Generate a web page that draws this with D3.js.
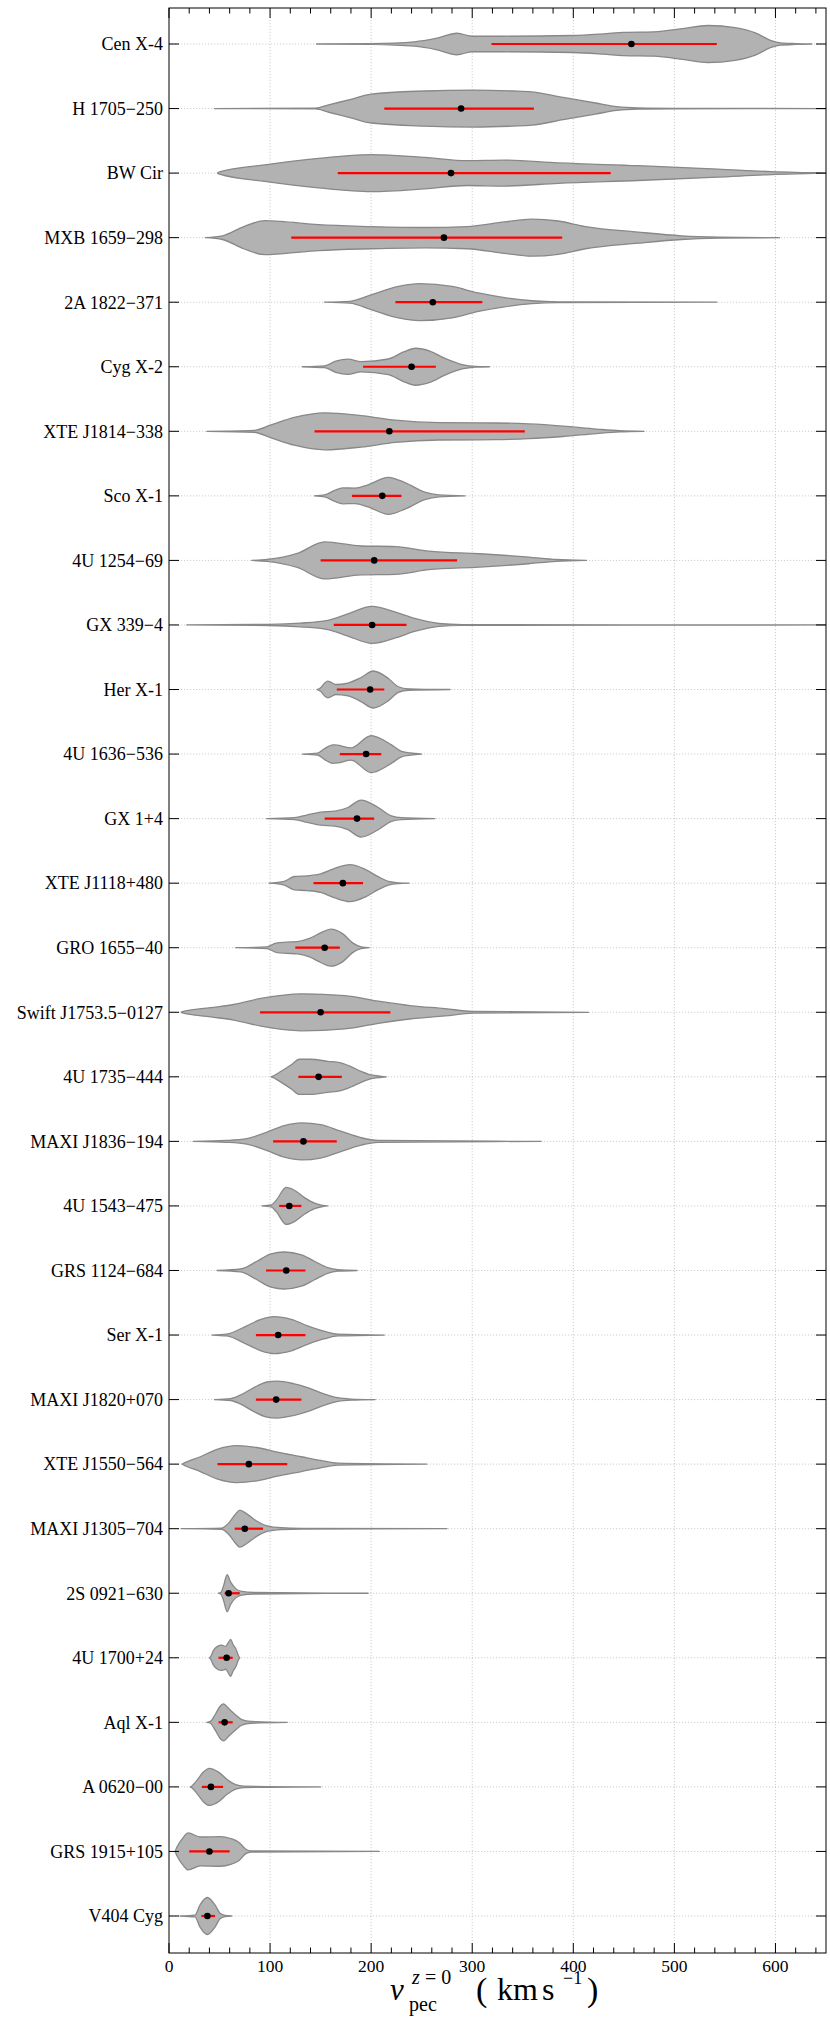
<!DOCTYPE html>
<html>
<head>
<meta charset="utf-8">
<script src="https://cdn.jsdelivr.net/npm/d3@7"></script>
<style>
  body { margin: 0; background: #fff; }
  text { font-family: "Liberation Serif", "DejaVu Serif", serif; fill: #000; }
</style>
</head>
<body>
<div class="chart"></div>
<script>
// sources, top to bottom
const sources = ["Cen X-4", "H 1705\u2212250", "BW Cir", "MXB 1659\u2212298", "2A 1822\u2212371",
  "Cyg X-2", "XTE J1814\u2212338", "Sco X-1", "4U 1254\u221269", "GX 339\u22124",
  "Her X-1", "4U 1636\u2212536", "GX 1+4", "XTE J1118+480", "GRO 1655\u221240",
  "Swift J1753.5\u22120127", "4U 1735\u2212444", "MAXI J1836\u2212194", "4U 1543\u2212475", "GRS 1124\u2212684",
  "Ser X-1", "MAXI J1820+070", "XTE J1550\u2212564", "MAXI J1305\u2212704", "2S 0921\u2212630",
  "4U 1700+24", "Aql X-1", "A 0620\u221200", "GRS 1915+105", "V404 Cyg"]

// median and red interval (km/s)
const medians = [457.5, 289, 279, 272, 261, 240, 218, 211, 203, 201, 199, 195, 186, 172, 154,
  150, 148, 133, 119, 116, 108, 106, 79, 75, 59, 57, 55, 41.5, 40, 38]
const lows = [319, 213, 167, 121, 224, 192, 144, 181, 150, 163, 166, 169, 154, 143, 125,
  90, 128, 103, 109, 96, 86, 86, 48, 65, 55, 49, 49, 32.5, 20, 32]
const highs = [542, 361, 437, 389, 310, 264, 352, 230, 285, 235, 213, 210, 203, 192, 169,
  219, 171, 166, 131, 135, 135, 131, 117, 93, 70, 63, 63, 53.5, 60, 45.5]

// extent of each distribution (thin tails)
const tailMin = [146, 45, 48, 36, 154, 132, 37.5, 144, 82, 17.6, 146.5, 132, 96.7, 99, 66,
  12, 101, 24, 92, 47.5, 42.5, 45, 13, 12, 49, 40, 37.5, 21, 6, 11]
const tailMax = [636, 650, 650, 604, 542, 317, 470, 293, 413, 650, 278, 250, 263, 237.5, 198,
  415, 215, 368, 157, 186, 213, 204, 255, 275, 197, 70, 117, 150, 208, 62]

// density profiles [velocity, relative width]
const profiles = [
  [[200,0.02],[243,0.12],[264,0.3],[285,0.58],[300,0.42],[330,0.42],[400,0.46],[430,0.55],[450,0.63],[480,0.66],[510,0.85],[533,1.0],[560,0.88],[580,0.6],[595,0.2],[605,0.06],[620,0.02]],
  [[145,0.02],[158,0.2],[180,0.5],[200,0.78],[253,0.95],[301,1.0],[340,0.95],[359,0.9],[390,0.6],[422,0.3],[443,0.1],[464,0.03],[500,0.01]],
  [[50,0.06],[95,0.45],[148,0.8],[200,1.0],[253,0.85],[295,0.67],[332,0.7],[385,0.55],[464,0.4],[543,0.22],[596,0.08],[638,0.02]],
  [[53,0.1],[74,0.6],[95,0.92],[110,0.88],[148,0.7],[200,0.6],[253,0.55],[295,0.6],[332,0.85],[359,1.0],[385,0.9],[412,0.6],[464,0.3],[507,0.1],[544,0.03]],
  [[179,0.05],[200,0.4],[227,0.85],[248,1.0],[280,0.85],[306,0.5],[332,0.25],[359,0.08],[385,0.02]],
  [[154,0.05],[165,0.3],[177,0.41],[190,0.28],[217,0.42],[232,0.8],[244,1.0],[258,0.85],[273,0.45],[290,0.12],[303,0.02]],
  [[84,0.05],[101,0.35],[124,0.75],[154,1.0],[190,0.85],[224,0.6],[267,0.47],[323,0.45],[356,0.4],[390,0.28],[423,0.12],[446,0.03]],
  [[154,0.05],[164,0.3],[172,0.43],[184,0.42],[197,0.6],[217,1.0],[234,0.7],[253,0.2],[267,0.05]],
  [[97,0.05],[127,0.38],[154,1.0],[190,0.78],[224,0.75],[257,0.5],[307,0.36],[356,0.18],[383,0.05]],
  [[100,0.03],[130,0.1],[157,0.25],[177,0.6],[201,1.0],[224,0.7],[243,0.35],[267,0.08],[290,0.02]],
  [[150,0.1],[154,0.35],[157,0.45],[160,0.4],[165,0.27],[177,0.35],[190,0.65],[202,1.0],[217,0.6],[227,0.15],[237,0.04]],
  [[147,0.05],[154,0.3],[162,0.5],[167,0.48],[180,0.33],[200,1.0],[220,0.5],[230,0.15],[244,0.03]],
  [[124,0.05],[137,0.2],[150,0.35],[164,0.4],[177,0.6],[190,1.0],[207,0.6],[220,0.15],[230,0.05]],
  [[114,0.1],[124,0.36],[137,0.4],[150,0.5],[164,0.8],[179,1.0],[194,0.75],[207,0.35],[217,0.1],[227,0.02]],
  [[97,0.05],[106,0.25],[116,0.3],[127,0.33],[139,0.5],[150,0.8],[160,1.0],[172,0.75],[182,0.25],[190,0.05]],
  [[12.6,0.02],[41,0.25],[64,0.42],[91,0.75],[131,1.0],[174,0.9],[207,0.6],[240,0.35],[273,0.2],[300,0.05]],
  [[102,0.02],[111,0.3],[121,0.65],[129,0.95],[140,0.95],[157,0.84],[170,0.75],[180,0.55],[190,0.3],[200,0.1],[210,0.03]],
  [[57,0.05],[77,0.15],[97,0.5],[114,0.85],[131,1.0],[150,0.9],[170,0.55],[190,0.2],[207,0.05]],
  [[101,0.05],[106,0.3],[116,1.0],[124,0.85],[134,0.45],[144,0.15],[152,0.03]],
  [[71,0.08],[87,0.5],[101,0.9],[114,1.0],[131,0.85],[144,0.5],[157,0.15],[167,0.04]],
  [[57,0.05],[77,0.5],[91,0.85],[104,1.0],[121,0.85],[137,0.5],[154,0.2],[167,0.05]],
  [[61,0.05],[71,0.25],[84,0.65],[97,0.95],[107,1.0],[124,0.85],[137,0.65],[154,0.3],[167,0.1],[180,0.03]],
  [[13.6,0.02],[31,0.4],[47.5,0.8],[67,1.0],[87,0.9],[107,0.65],[131,0.4],[150,0.2],[167,0.05]],
  [[52,0.03],[59,0.3],[66,0.8],[70,1.0],[77,0.8],[87,0.4],[97,0.15],[111,0.05],[131,0.02]],
  [[51.5,0.05],[54,0.4],[57.5,1.0],[61,0.6],[66,0.25],[72,0.1],[84,0.04]],
  [[41,0.05],[44,0.4],[48,0.62],[52,0.68],[56,0.62],[59,0.85],[61,1.0],[63.5,0.7],[66,0.5],[69,0.08]],
  [[41,0.05],[46,0.45],[51,0.9],[54,1.0],[59,0.75],[66,0.4],[72,0.15],[81,0.05]],
  [[22.6,0.05],[27.6,0.35],[34,0.8],[40,1.0],[49,0.8],[57.5,0.4],[66,0.12],[74,0.04]],
  [[8,0.25],[14,0.75],[19,1.0],[31,0.78],[51,0.8],[61,0.7],[69,0.5],[76,0.12],[81,0.03]],
  [[25.7,0.05],[30.7,0.6],[38,1.0],[45.5,0.6],[50.5,0.15],[55.4,0.03]]
]

const xTicks = [0, 100, 200, 300, 400, 500, 600]
const xMinor = d3.range(20, 650, 20).filter(v => v % 100 !== 0)

const W = 830, H = 2030
const pLeft = 169, pRight = 826, pTop = 8, pBottom = 1953
const halfW = 18.5

const x = d3.scaleLinear().domain([0, 650]).range([pLeft, pRight])
const y = d3.scalePoint().domain(sources).range([44, 1916])

const svg = d3.select('.chart').append('svg')
  .attr('width', W).attr('height', H)

svg.append('defs').append('clipPath').attr('id', 'plot')
  .append('rect').attr('x', pLeft).attr('y', pTop)
  .attr('width', pRight - pLeft).attr('height', pBottom - pTop)

// grid
const grid = svg.append('g')
  .attr('stroke', '#c2c2c2').attr('stroke-width', 0.8).attr('stroke-dasharray', '1.2,1.8')
grid.selectAll('line.v').data(xTicks.slice(1)).enter().append('line')
  .attr('x1', d => x(d)).attr('x2', d => x(d)).attr('y1', pTop).attr('y2', pBottom)
grid.selectAll('line.h').data(sources).enter().append('line')
  .attr('x1', pLeft).attr('x2', pRight).attr('y1', d => y(d)).attr('y2', d => y(d))

// violins
const plot = svg.append('g').attr('clip-path', 'url(#plot)')
sources.forEach((s, i) => {
  const pts = [[tailMin[i], 0]].concat(profiles[i], [[tailMax[i], 0]])
  const yc = y(s)
  const area = d3.area()
    .curve(d3.curveMonotoneX)
    .x(d => x(d[0]))
    .y0(d => yc - d[1] * halfW)
    .y1(d => yc + d[1] * halfW)
  plot.append('path')
    .attr('d', area(pts))
    .attr('fill', '#b2b2b2')
    .attr('stroke', '#888')
    .attr('stroke-width', 1.3)
    .attr('stroke-linejoin', 'round')
})

// interval + median
plot.selectAll('line.iv').data(sources).enter().append('line')
  .attr('x1', (d, i) => x(lows[i])).attr('x2', (d, i) => x(highs[i]))
  .attr('y1', d => y(d)).attr('y2', d => y(d))
  .attr('stroke', '#ff0000').attr('stroke-width', 2.2)
plot.selectAll('circle').data(sources).enter().append('circle')
  .attr('cx', (d, i) => x(medians[i])).attr('cy', d => y(d))
  .attr('r', 3.3).attr('fill', '#000')

// frame and ticks
const ax = svg.append('g').attr('stroke', '#000').attr('stroke-width', 1)
ax.append('rect').attr('x', pLeft).attr('y', pTop)
  .attr('width', pRight - pLeft).attr('height', pBottom - pTop).attr('fill', 'none')
ax.selectAll('line.xb').data(xTicks.concat(xMinor)).enter().append('line')
  .attr('x1', d => x(d)).attr('x2', d => x(d))
  .attr('y1', pBottom).attr('y2', d => pBottom - (d % 100 === 0 ? 10 : 5.5))
ax.selectAll('line.xt').data(xTicks.concat(xMinor)).enter().append('line')
  .attr('x1', d => x(d)).attr('x2', d => x(d))
  .attr('y1', pTop).attr('y2', d => pTop + (d % 100 === 0 ? 10 : 5.5))
ax.selectAll('line.yl').data(sources).enter().append('line')
  .attr('x1', pLeft).attr('x2', pLeft + 10).attr('y1', d => y(d)).attr('y2', d => y(d))
ax.selectAll('line.yr').data(sources).enter().append('line')
  .attr('x1', pRight - 10).attr('x2', pRight).attr('y1', d => y(d)).attr('y2', d => y(d))

svg.append('g').selectAll('text').data(sources).enter().append('text')
  .attr('x', pLeft - 6).attr('y', d => y(d)).attr('dy', '0.35em')
  .attr('text-anchor', 'end').attr('font-size', 18)
  .text(d => d)

svg.append('g').selectAll('text').data(xTicks).enter().append('text')
  .attr('x', d => x(d)).attr('y', 1972)
  .attr('text-anchor', 'middle').attr('font-size', 17.5)
  .text(d => d)

// x label: v_pec^{z=0} (km s^-1), one plain text per piece
const lab = svg.append('g').attr('transform', 'translate(390,2000)')
lab.append('text').attr('x', 0).attr('font-size', 31).attr('font-style', 'italic').text('v')
lab.append('text').attr('x', 19).attr('y', 11).attr('font-size', 20).text('pec')
lab.append('text').attr('x', 22).attr('y', -16).attr('font-size', 20).attr('font-style', 'italic').text('z')
lab.append('text').attr('x', 35).attr('y', -16).attr('font-size', 20).text('= 0')
lab.append('text').attr('x', 86).attr('y', 1).attr('font-size', 34).text('(')
lab.append('text').attr('x', 107).attr('font-size', 32).text('km')
lab.append('text').attr('x', 152).attr('font-size', 32).text('s')
lab.append('text').attr('x', 173).attr('y', -16).attr('font-size', 18).text('\u22121')
lab.append('text').attr('x', 197).attr('y', 1).attr('font-size', 34).text(')')
</script>
</body>
</html>
